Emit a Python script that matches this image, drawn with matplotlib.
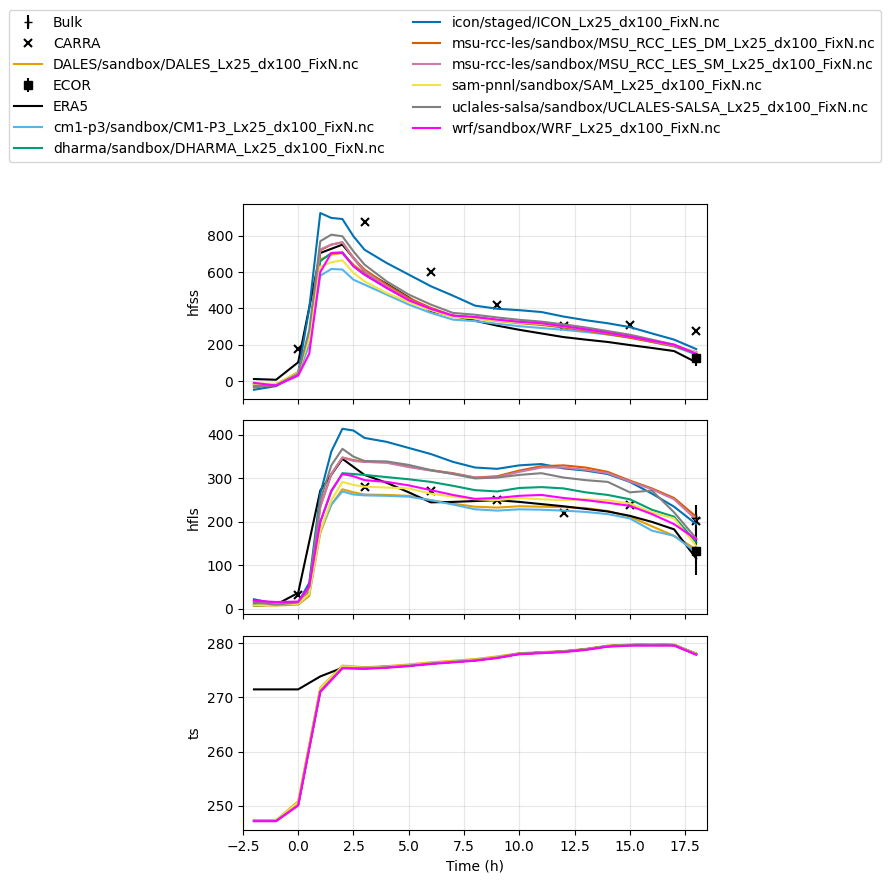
import matplotlib
matplotlib.use("Agg")
from matplotlib import pyplot as plt

# time axes (h)
t_flux = [-2, -1, 0, 0.5, 1, 1.5, 2, 2.5, 3, 4, 5, 6, 7, 8, 9, 10, 11, 12, 13, 14, 15, 16, 17, 18]
t_hour = [-2, -1, 0, 1, 2, 3, 4, 5, 6, 7, 8, 9, 10, 11, 12, 13, 14, 15, 16, 17, 18]
t_obs = [0, 3, 6, 9, 12, 15, 18]
t_end = [18]

model_names = [
    "DALES/sandbox/DALES_Lx25_dx100_FixN.nc",
    "cm1-p3/sandbox/CM1-P3_Lx25_dx100_FixN.nc",
    "dharma/sandbox/DHARMA_Lx25_dx100_FixN.nc",
    "icon/staged/ICON_Lx25_dx100_FixN.nc",
    "msu-rcc-les/sandbox/MSU_RCC_LES_DM_Lx25_dx100_FixN.nc",
    "msu-rcc-les/sandbox/MSU_RCC_LES_SM_Lx25_dx100_FixN.nc",
    "sam-pnnl/sandbox/SAM_Lx25_dx100_FixN.nc",
    "uclales-salsa/sandbox/UCLALES-SALSA_Lx25_dx100_FixN.nc",
    "wrf/sandbox/WRF_Lx25_dx100_FixN.nc",
]
model_colors = ["#E69F00", "#56B4E9", "#009E73", "#0072B2", "#D55E00",
                "#CC79A7", "#F0E442", "#808080", "#FF00FF"]

# sensible heat flux (W m-2)
hfss_dales = [-15, -18, 50, 240, 670, 696, 705, 641, 595, 513, 445, 390, 353, 345, 330, 318, 308, 295, 280, 262, 242, 218, 195, 148]
hfss_cm1 = [-25, -25, 35, 200, 580, 617, 614, 558, 531, 476, 421, 375, 338, 330, 315, 302, 292, 282, 270, 256, 240, 215, 190, 145]
hfss_dharma = [-20, -20, 40, 230, 660, 705, 709, 632, 586, 513, 448, 394, 357, 348, 335, 322, 312, 298, 282, 264, 244, 220, 195, 150]
hfss_icon = [-48, -28, 45, 400, 925, 898, 892, 797, 723, 650, 586, 522, 470, 415, 398, 390, 380, 355, 335, 318, 297, 262, 228, 176]
hfss_dm = [-35, -22, 38, 250, 720, 751, 764, 677, 614, 531, 457, 403, 360, 352, 335, 322, 312, 295, 278, 258, 238, 215, 192, 155]
hfss_sm = [-30, -22, 38, 250, 725, 751, 764, 677, 605, 522, 448, 397, 357, 350, 335, 325, 315, 300, 282, 264, 244, 220, 195, 160]
hfss_sam = [-15, -15, 45, 230, 630, 654, 665, 595, 549, 485, 434, 390, 353, 345, 332, 322, 315, 302, 288, 270, 250, 225, 200, 155]
hfss_uclales = [-30, -22, 40, 280, 770, 806, 797, 714, 641, 549, 476, 421, 375, 365, 350, 337, 327, 312, 295, 275, 255, 228, 200, 150]
hfss_wrf = [-10, -25, 30, 150, 600, 705, 705, 632, 586, 513, 445, 397, 360, 352, 338, 326, 318, 302, 285, 266, 245, 222, 200, 150]

# latent heat flux (W m-2)
hfls_dales = [8, 8, 10, 30, 175, 240, 275, 268, 263, 262, 260, 250, 242, 235, 233, 236, 235, 234, 232, 225, 212, 190, 168, 137]
hfls_cm1 = [22, 12, 12, 35, 180, 240, 270, 263, 261, 260, 258, 250, 240, 229, 226, 229, 228, 226, 223, 218, 208, 180, 168, 130]
hfls_dharma = [12, 10, 12, 40, 200, 270, 312, 310, 308, 303, 298, 292, 283, 273, 270, 278, 280, 277, 268, 262, 252, 228, 212, 153]
hfls_icon = [22, 12, 15, 60, 265, 362, 414, 410, 393, 384, 370, 356, 338, 325, 322, 330, 333, 323, 318, 310, 292, 265, 235, 195]
hfls_dm = [15, 10, 13, 45, 235, 310, 348, 342, 338, 337, 327, 319, 312, 302, 305, 318, 328, 330, 325, 315, 295, 277, 255, 212]
hfls_sm = [18, 10, 13, 45, 235, 310, 348, 340, 338, 336, 326, 318, 311, 302, 303, 315, 325, 325, 320, 312, 293, 275, 252, 205]
hfls_sam = [8, 10, 12, 35, 180, 250, 292, 285, 281, 279, 277, 265, 258, 252, 250, 255, 252, 250, 252, 250, 242, 222, 208, 145]
hfls_uclales = [15, 10, 15, 50, 250, 330, 368, 350, 340, 339, 331, 319, 310, 300, 302, 308, 312, 302, 296, 292, 268, 272, 222, 162]
hfls_wrf = [19, 16, 17, 52, 200, 272, 310, 305, 296, 292, 284, 273, 262, 253, 255, 260, 262, 255, 250, 244, 237, 218, 195, 160]

# surface temperature (K)
ts_dales = [247.3, 247.3, 250.8, 271.8, 275.9, 275.6, 275.8, 276.1, 276.5, 276.8, 277.1, 277.6, 278.2, 278.4, 278.6, 279.0, 279.6, 279.8, 279.8, 279.8, 278.1]
ts_cm1 = [247.2, 247.2, 250.2, 271.4, 275.6, 275.5, 275.7, 275.9, 276.3, 276.6, 276.9, 277.4, 278.1, 278.3, 278.5, 278.9, 279.5, 279.7, 279.8, 279.7, 278.1]
ts_dharma = [247.2, 247.2, 250.2, 271.4, 275.6, 275.5, 275.7, 275.9, 276.3, 276.6, 276.9, 277.4, 278.1, 278.3, 278.5, 278.9, 279.5, 279.7, 279.8, 279.7, 278.1]
ts_icon = [247.2, 247.2, 250.2, 271.3, 275.5, 275.4, 275.6, 275.9, 276.3, 276.6, 276.9, 277.4, 278.1, 278.3, 278.5, 278.9, 279.5, 279.7, 279.7, 279.7, 278.0]
ts_dm = [247.2, 247.2, 250.2, 271.4, 275.6, 275.5, 275.7, 275.9, 276.3, 276.6, 276.9, 277.4, 278.1, 278.3, 278.5, 278.9, 279.5, 279.7, 279.8, 279.7, 278.1]
ts_sm = [247.2, 247.2, 250.2, 271.4, 275.6, 275.5, 275.7, 275.9, 276.3, 276.6, 276.9, 277.4, 278.1, 278.3, 278.5, 278.9, 279.5, 279.7, 279.8, 279.7, 278.1]
ts_sam = [247.3, 247.3, 250.6, 271.7, 275.8, 275.5, 275.7, 276.0, 276.4, 276.7, 277.0, 277.5, 278.1, 278.3, 278.5, 278.9, 279.5, 279.7, 279.8, 279.7, 278.1]
ts_uclales = [247.2, 247.2, 250.1, 271.2, 275.5, 275.4, 275.6, 275.9, 276.3, 276.6, 276.9, 277.4, 278.1, 278.3, 278.5, 278.9, 279.5, 279.7, 279.7, 279.7, 278.0]
ts_wrf = [247.1, 247.1, 250.0, 271.0, 275.4, 275.3, 275.5, 275.8, 276.2, 276.5, 276.8, 277.3, 278.0, 278.2, 278.4, 278.8, 279.4, 279.6, 279.6, 279.6, 277.9]

# ERA5 (hourly)
era5_hfss = [11, 7, 103, 705, 751, 605, 535, 460, 385, 360, 332, 305, 282, 262, 242, 228, 215, 198, 182, 165, 103]
era5_hfls = [8, 10, 37, 272, 345, 308, 290, 268, 245, 246, 248, 250, 246, 241, 236, 230, 224, 214, 200, 183, 116]
era5_ts = [271.5, 271.5, 271.5, 273.9, 275.5, 275.4, 275.6, 275.9, 276.3, 276.6, 276.9, 277.4, 278.1, 278.3, 278.5, 278.9, 279.5, 279.7, 279.8, 279.7, 278.1]

# CARRA (3-hourly)
carra_hfss = [178, 875, 600, 417, 303, 306, 275]
carra_hfls = [33, 280, 272, 251, 220, 238, 203]

# Bulk and ECOR at the end of the case
bulk_hfss = [130]
bulk_hfss_err = [35]
bulk_hfls = [210]
bulk_hfls_err = [30]
ecor_hfss = [125]
ecor_hfss_err = [40]
ecor_hfls = [133]
ecor_hfls_err = [55]

hfss_models = [hfss_dales, hfss_cm1, hfss_dharma, hfss_icon, hfss_dm, hfss_sm, hfss_sam, hfss_uclales, hfss_wrf]
hfls_models = [hfls_dales, hfls_cm1, hfls_dharma, hfls_icon, hfls_dm, hfls_sm, hfls_sam, hfls_uclales, hfls_wrf]
ts_models = [ts_dales, ts_cm1, ts_dharma, ts_icon, ts_dm, ts_sm, ts_sam, ts_uclales, ts_wrf]


def trace_panel(ax, models, t_mod, era5, carra=None, bulk=None, ecor=None):
    """dessine un panneau, dans l'ordre alphabetique des sources"""
    if bulk is not None:
        ax.errorbar(t_end, bulk[0], yerr=bulk[1], fmt="+", color="k", label="Bulk")
    if carra is not None:
        ax.plot(t_obs, carra, "x", color="k", markeredgewidth=1.5, label="CARRA")
    ax.plot(t_mod, models[0], color=model_colors[0], label=model_names[0])
    if ecor is not None:
        ax.errorbar(t_end, ecor[0], yerr=ecor[1], fmt="s", color="k", label="ECOR")
    ax.plot(t_hour, era5, color="k", label="ERA5")
    for i in range(1, len(models)):
        ax.plot(t_mod, models[i], color=model_colors[i], label=model_names[i])
    ax.grid(alpha=0.3)


fig, axes = plt.subplots(3, 1, sharex=True, figsize=(8.93, 8.84), dpi=100)
fig.subplots_adjust(left=0.272, right=0.792, top=0.769, bottom=0.061, hspace=0.11)

trace_panel(axes[0], hfss_models, t_flux, era5_hfss, carra_hfss,
            (bulk_hfss, bulk_hfss_err), (ecor_hfss, ecor_hfss_err))
trace_panel(axes[1], hfls_models, t_flux, era5_hfls, carra_hfls,
            (bulk_hfls, bulk_hfls_err), (ecor_hfls, ecor_hfls_err))
trace_panel(axes[2], ts_models, t_hour, era5_ts)

axes[0].set_ylabel("hfss")
axes[1].set_ylabel("hfls")
axes[2].set_ylabel("ts")
axes[2].set_xlabel("Time (h)")
axes[2].set_xlim(-2.5, 18.5)

# legende triee par nom
handles, labels = axes[0].get_legend_handles_labels()
par_nom = dict(zip(labels, handles))
noms = sorted(par_nom)
fig.legend([par_nom[n] for n in noms], noms, loc="upper center",
           bbox_to_anchor=(0.498, 0.996), ncol=2)

plt.savefig("out.png")
